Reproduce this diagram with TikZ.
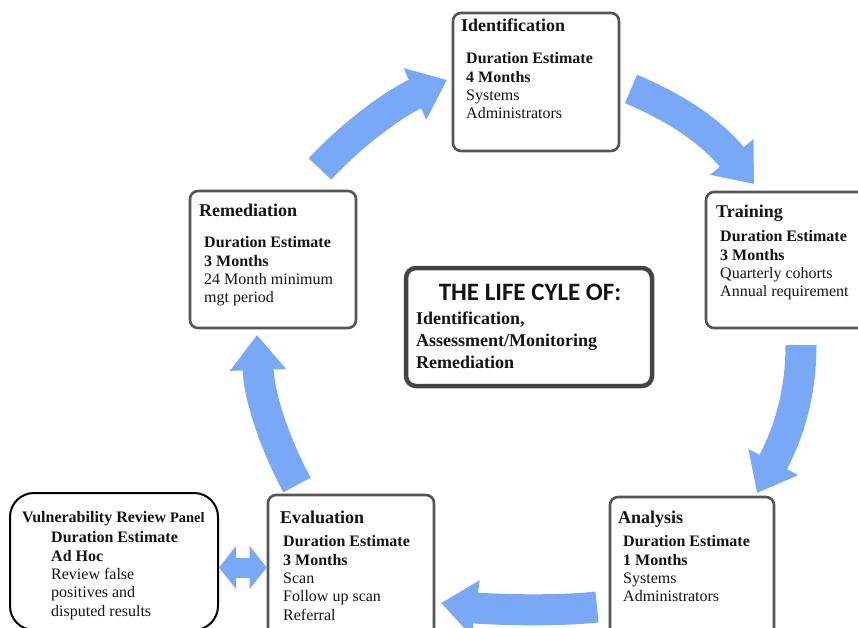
\documentclass[tikz,border=0pt]{standalone}
\usepackage{fontspec}
\setmainfont{Liberation Serif}
\newfontfamily\calib{Carlito}
\usetikzlibrary{arrows.meta}
\definecolor{arrowblue}{RGB}{121,168,247}
\definecolor{boxgray}{RGB}{85,85,85}
\definecolor{txt}{RGB}{20,20,20}
\tikzset{
  box/.style={draw=boxgray, line width=2.6pt, rounded corners=8pt, fill=white, inner sep=0pt},
  ttl/.style={anchor=base west, inner sep=0pt, font=\fontsize{18}{20}\selectfont\bfseries, text=txt},
  bodytxt/.style={anchor=north west, inner sep=0pt, align=left, font=\fontsize{16}{18.3}\selectfont, text=txt},
  cyc/.style={draw=arrowblue, line width=31pt, -{Triangle[length=35pt,width=54pt]}},
}
\begin{document}
\begin{tikzpicture}[x=1pt,y=-1pt]
\path[use as bounding box] (0,0) rectangle (858,628);
\clip (0,0) rectangle (858,628);

% boxes
\node[box, minimum width=166pt, minimum height=138pt] (id) at (536,82) {};
\node[box, minimum width=166pt, minimum height=136pt] (tr) at (789,260) {};
\node[box, minimum width=164pt, minimum height=143pt] (an) at (692,568.5) {};
\node[box, minimum width=166pt, minimum height=145pt] (ev) at (351,567.5) {};
\node[box, draw=black, line width=2pt, rounded corners=24pt, minimum width=208pt, minimum height=137pt] (vrp) at (114,561.5) {};
\node[box, minimum width=166pt, minimum height=137pt] (rem) at (273,259.5) {};
\node[box, draw=boxgray!80!black, line width=4.5pt, rounded corners=10pt, minimum width=246pt, minimum height=118pt] (ctr) at (529,327) {};

% texts
\node[ttl] (idt) at (461,32) {Identification};
\node[bodytxt] (idb) at (466,52.5) {\textbf{Duration Estimate}\\\textbf{4 Months}\\Systems\\Administrators};

\node[ttl] (trt) at (716,218) {Training};
\node[bodytxt] (trb) at (720,230.5) {\textbf{Duration Estimate}\\\textbf{3 Months}\\Quarterly cohorts\\Annual requirement};

\node[ttl] (ant) at (618,523) {Analysis};
\node[bodytxt] (anb) at (623,535.5) {\textbf{Duration Estimate}\\\textbf{1 Months}\\Systems\\Administrators};

\node[ttl] (evt) at (280,523) {Evaluation};
\node[bodytxt] (evb) at (283,535.5) {\textbf{Duration Estimate}\\\textbf{3 Months}\\Scan\\Follow up scan\\Referral};

\node[ttl, font=\fontsize{16}{18}\selectfont\bfseries] (vrpt) at (22,522) {Vulnerability Review {\fontsize{14.5}{16}\selectfont Panel}};
\node[bodytxt] (vrpb) at (51,531.5) {\textbf{Duration Estimate}\\\textbf{Ad Hoc}\\Review false\\positives and\\disputed results};

\node[ttl] (remt) at (199,217) {Remediation};
\node[bodytxt] (remb) at (204,236.5) {\textbf{Duration Estimate}\\\textbf{3 Months}\\24 Month minimum\\mgt period};

\node[anchor=base, inner sep=0pt, font=\calib\fontsize{25}{28}\selectfont\bfseries, text=txt] (ctrt) at (530,300.5) {THE LIFE CYLE OF:};
\node[anchor=north west, inner sep=0pt, align=left, font=\fontsize{18}{22}\selectfont\bfseries, text=txt] (ctrb) at (416,312) {Identification,\\Assessment/Monitoring\\Remediation};

% cycle arrows
\coordinate (a1s) at (320,169); \coordinate (a1e) at (447,80);
\coordinate (a2s) at (631,89);  \coordinate (a2e) at (754,184);
\coordinate (a3s) at (801,345); \coordinate (a3e) at (757,493);
\coordinate (a4s) at (597,607); \coordinate (a4e) at (441,603);
\coordinate (a5s) at (297,485); \coordinate (a5e) at (257,335);

\draw[cyc] (a1s) .. controls (358,128) and (401,100) .. (a1e);
\draw[cyc] (a2s) .. controls (681,110) and (713,134) .. (a2e);
\draw[cyc] (a3s) .. controls (801,395) and (788,434) .. (a3e);
\draw[cyc] (a4s) .. controls (552,612) and (482,609) .. (a4e);
\draw[cyc] (a5s) .. controls (278,450) and (259,400) .. (a5e);

% double arrow
\draw[draw=arrowblue, line width=20pt, {Triangle[length=17pt,width=42pt]}-{Triangle[length=17pt,width=42pt]}] (vrp.east |- ev.west) -- (ev.west);
\end{tikzpicture}
\end{document}
